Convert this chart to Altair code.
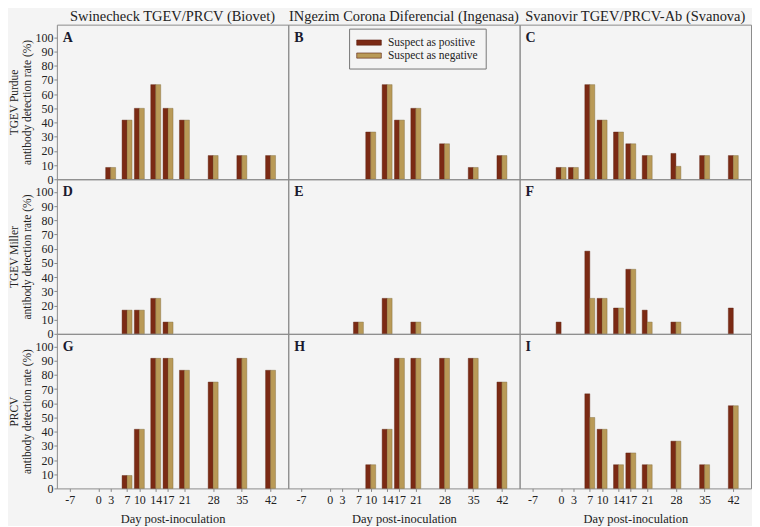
import altair as alt
import pandas as pd

days = [-7, 0, 3, 7, 10, 14, 17, 21, 28, 35, 42]

A_pos = [0, 0, 8.3, 41.7, 50, 66.7, 50, 41.7, 16.7, 16.7, 16.7]
A_neg = [0, 0, 8.3, 41.7, 50, 66.7, 50, 41.7, 16.7, 16.7, 16.7]
B_pos = [0, 0, 0, 0, 33.3, 66.7, 41.7, 50, 25, 8.3, 16.7]
B_neg = [0, 0, 0, 0, 33.3, 66.7, 41.7, 50, 25, 8.3, 16.7]
C_pos = [0, 8.3, 8.3, 66.7, 41.7, 33.3, 25, 16.7, 18.2, 16.7, 16.7]
C_neg = [0, 8.3, 8.3, 66.7, 41.7, 33.3, 25, 16.7, 9.1, 16.7, 16.7]
D_pos = [0, 0, 0, 16.7, 16.7, 25, 8.3, 0, 0, 0, 0]
D_neg = [0, 0, 0, 16.7, 16.7, 25, 8.3, 0, 0, 0, 0]
E_pos = [0, 0, 0, 8.3, 0, 25, 0, 8.3, 0, 0, 0]
E_neg = [0, 0, 0, 8.3, 0, 25, 0, 8.3, 0, 0, 0]
F_pos = [0, 8.3, 0, 58.3, 25, 18.2, 45.5, 16.7, 8.3, 0, 18.2]
F_neg = [0, 0, 0, 25, 25, 18.2, 45.5, 8.3, 8.3, 0, 0]
G_pos = [0, 0, 0, 9.1, 41.7, 91.7, 91.7, 83.3, 75, 91.7, 83.3]
G_neg = [0, 0, 0, 9.1, 41.7, 91.7, 91.7, 83.3, 75, 91.7, 83.3]
H_pos = [0, 0, 0, 0, 16.7, 41.7, 91.7, 91.7, 91.7, 91.7, 75]
H_neg = [0, 0, 0, 0, 16.7, 41.7, 91.7, 91.7, 91.7, 91.7, 75]
I_pos = [0, 0, 0, 66.7, 41.7, 16.7, 25, 16.7, 33.3, 16.7, 58.3]
I_neg = [0, 0, 0, 50, 41.7, 16.7, 25, 16.7, 33.3, 16.7, 58.3]

panel_values = {
    "A": (A_pos, A_neg), "B": (B_pos, B_neg), "C": (C_pos, C_neg),
    "D": (D_pos, D_neg), "E": (E_pos, E_neg), "F": (F_pos, F_neg),
    "G": (G_pos, G_neg), "H": (H_pos, H_neg), "I": (I_pos, I_neg),
}
letters = ["A", "B", "C", "D", "E", "F", "G", "H", "I"]
kits = ["Swinecheck TGEV/PRCV (Biovet)",
        "INgezim Corona Diferencial (Ingenasa)",
        "Svanovir TGEV/PRCV-Ab (Svanova)"]
viruses = [["TGEV Purdue", "antibody detection rate (%)"],
           ["TGEV Miller", "antibody detection rate (%)"],
           ["PRCV", "antibody detection rate (%)"]]
series = ["Suspect as positive", "Suspect as negative"]
colors = ["#7b2a14", "#b99a57"]
y_ticks = list(range(0, 101, 10))

FONT = "Liberation Serif"
W, H = 232, 155


def panel(r, c):
    letter = letters[r * 3 + c]
    pos, neg = panel_values[letter]
    df = pd.DataFrame({
        "day": days + days,
        "rate": pos + neg,
        "series": [series[0]] * len(days) + [series[1]] * len(days),
    })
    df = df[df["rate"] > 0]

    xaxis = alt.Axis(values=days, title="Day post-inoculation", grid=False,
                     labelExpr="datum.value", labelFont=FONT, titleFont=FONT,
                     labelOverlap=False, labelFlush=False, tickSize=3,
                     labelPadding=3, titlePadding=7, domain=False,
                     tickColor="#888", labelFontSize=12, titleFontSize=12.5,
                     titleFontWeight="normal") if r == 2 else None
    yaxis = alt.Axis(values=y_ticks, title=viruses[r], grid=False,
                     labelFont=FONT, titleFont=FONT, titleLineHeight=13,
                     labelFlush=False, tickSize=3, labelPadding=1,
                     titlePadding=2, domain=False, tickColor="#888",
                     labelFontSize=12, titleFontSize=11.5,
                     titleFontWeight="normal") if c == 0 else None

    x = alt.X("day:Q", scale=alt.Scale(domain=[-8.9, 45.1], nice=False, zero=False), axis=xaxis)
    y = alt.Y("rate:Q", scale=alt.Scale(domain=[0, 109], nice=False), axis=yaxis)
    if letter == "B":
        legend = alt.Legend(title=None, orient="none", legendX=293, legendY=4,
                            strokeColor="#777", fillColor="#f4f4f4", padding=7,
                            symbolType="M-1.9,-0.4H1.9V0.4H-1.9Z", symbolSize=169,
                            symbolOffset=6, labelOffset=12, rowPadding=0,
                            labelFontSize=11.5, labelFont=FONT, labelColor="#222",
                            symbolStrokeWidth=0.6)
        color_pos = alt.Color("series:N", scale=alt.Scale(domain=series, range=colors), legend=legend)
        color_neg = color_pos
    else:
        color_pos = alt.value(colors[0])
        color_neg = alt.value(colors[1])

    base = alt.Chart(df)
    bars_pos = base.transform_filter(alt.datum.series == series[0]).mark_bar(
        width=5, xOffset=-2.5, stroke="#5a2010", strokeWidth=0.4
    ).encode(x=x, y=y, color=color_pos)
    bars_neg = base.transform_filter(alt.datum.series == series[1]).mark_bar(
        width=5, xOffset=2.5, stroke="#7a6538", strokeWidth=0.4
    ).encode(x=x, y=y, color=color_neg)
    label = alt.Chart(pd.DataFrame({"t": [letter]})).mark_text(
        align="left", baseline="top", font=FONT, fontWeight="bold", fontSize=14, color="#1a1a2e"
    ).encode(x=alt.value(6), y=alt.value(6), text="t:N")

    layer = alt.layer(bars_pos, bars_neg, label).properties(width=W, height=H)
    if r == 0:
        layer = layer.properties(title=alt.TitleParams(kits[c], fontSize=14.5, font=FONT,
                                                       fontWeight="normal", color="#222", offset=0))
    return layer


panels = [panel(r, c) for r in range(3) for c in range(3)]
chart = alt.concat(*panels, columns=3, spacing=0, bounds="flush").properties(
    padding={"left": 0, "top": 0, "right": 0, "bottom": 0},
    background="#f4f4f4",
).configure_view(
    stroke="#8c8c8c", strokeWidth=1
).configure_axis(
    labelFont=FONT, titleFont=FONT, labelColor="#222", titleColor="#222"
).configure_legend(
    labelFont=FONT, labelFontSize=11.5
).configure_title(font=FONT).configure_text(font=FONT).configure_concat(spacing=0)

chart.save("out.html", embed_options={"renderer": "svg", "actions": False})
